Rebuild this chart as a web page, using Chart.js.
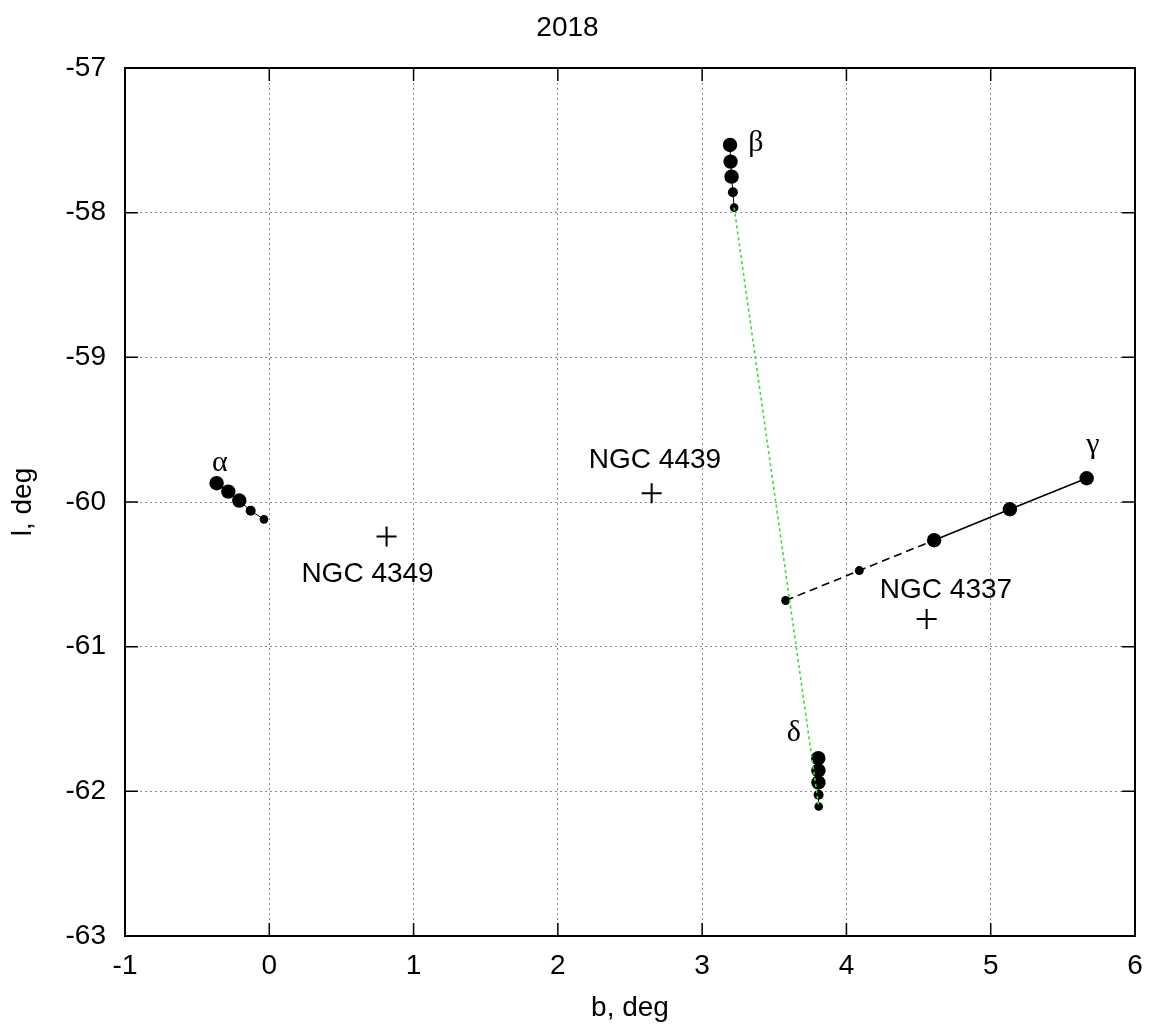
<!DOCTYPE html>
<html>
<head>
<meta charset="utf-8">
<script src="https://cdn.jsdelivr.net/npm/chart.js@4.4.1/dist/chart.umd.min.js"></script>
<style>
  html, body { margin: 0; padding: 0; background: #fff; }
  #wrap { width: 1152px; height: 1025px; }
</style>
</head>
<body>
<div id="wrap"><canvas id="c" width="1152" height="1025"></canvas></div>
<script>
// ---- data (b, l in degrees) ----
const alphaB = [-0.365, -0.284, -0.208, -0.129, -0.037];
const alphaL = [-59.87, -59.928, -59.99, -60.06, -60.12];
const betaB  = [3.193, 3.197, 3.204, 3.213, 3.222];
const betaL  = [-57.532, -57.647, -57.751, -57.859, -57.965];
const gammaB = [3.579, 4.089, 4.608, 5.133, 5.665];
const gammaL = [-60.681, -60.474, -60.264, -60.050, -59.836];
const deltaB = [3.805, 3.806, 3.806, 3.807, 3.808];
const deltaL = [-61.771, -61.856, -61.939, -62.024, -62.105];
const ngcNames = ['NGC 4349', 'NGC 4439', 'NGC 4337'];
const ngcB = [0.813, 2.650, 4.556];
const ngcL = [-60.239, -59.939, -60.808];
const xTicks = [-1, 0, 1, 2, 3, 4, 5, 6];
const yTicks = [-63, -62, -61, -60, -59, -58, -57];

// ---- styles ----
const bigSmallRadii = [7.2, 7.2, 7.2, 5, 4.3];
const gammaRadii = [4.5, 4.5, 7.2, 7.2, 7.2];
const FONT = "'Liberation Sans', Arial, Helvetica, sans-serif";
const SERIF = "'Liberation Serif', 'DejaVu Serif', serif";

function pts(xs, ys) { return xs.map((x, i) => ({ x: x, y: ys[i] })); }

// text annotations anchored in data units
const labels = [
  { text: 'α', x: -0.342, y: -59.73, font: '30px ' + SERIF },
  { text: 'β', x: 3.373, y: -57.518, font: '30px ' + SERIF },
  { text: 'γ', x: 5.708, y: -59.605, font: '30px ' + SERIF },
  { text: 'δ', x: 3.636, y: -61.596, font: '30px ' + SERIF },
  { text: ngcNames[0], x: 0.681, y: -60.497, font: '28px ' + FONT },
  { text: ngcNames[1], x: 2.673, y: -59.709, font: '28px ' + FONT },
  { text: ngcNames[2], x: 4.690, y: -60.607, font: '28px ' + FONT }
];

const framePlugin = {
  id: 'frame',
  afterDatasetsDraw(chart) {
    const { ctx, chartArea: a, scales } = chart;
    ctx.save();
    ctx.strokeStyle = '#000';
    ctx.lineWidth = 1.5;
    ctx.beginPath();
    const tl = 13;
    xTicks.forEach(v => {
      const px = scales.x.getPixelForValue(v);
      ctx.moveTo(px, a.bottom); ctx.lineTo(px, a.bottom - tl);
      ctx.moveTo(px, a.top); ctx.lineTo(px, a.top + tl);
    });
    yTicks.forEach(v => {
      const py = scales.y.getPixelForValue(v);
      ctx.moveTo(a.left, py); ctx.lineTo(a.left + tl, py);
      ctx.moveTo(a.right, py); ctx.lineTo(a.right - tl, py);
    });
    ctx.stroke();
    ctx.lineWidth = 2;
    ctx.strokeRect(a.left, a.top, a.right - a.left, a.bottom - a.top);
    // labels
    ctx.fillStyle = '#000';
    ctx.textAlign = 'center';
    ctx.textBaseline = 'middle';
    labels.forEach(l => {
      ctx.font = l.font;
      ctx.fillText(l.text, scales.x.getPixelForValue(l.x), scales.y.getPixelForValue(l.y));
    });
    ctx.restore();
  }
};

const ctx = document.getElementById('c');
new Chart(ctx, {
  type: 'scatter',
  data: {
    datasets: [
      {
        label: 'link',
        data: [pts(betaB, betaL).pop(), pts(deltaB, deltaL).pop()],
        showLine: true,
        borderColor: '#33e033',
        borderWidth: 1.6,
        borderDash: [3, 3],
        pointRadius: 0,
        order: 0
      },
      {
        label: 'alpha',
        data: pts(alphaB, alphaL),
        showLine: true,
        borderColor: '#000',
        borderWidth: 1,
        backgroundColor: '#000',
        pointRadius: bigSmallRadii,
        pointBorderWidth: 0,
        order: 1
      },
      {
        label: 'beta',
        data: pts(betaB, betaL),
        showLine: true,
        borderColor: '#000',
        borderWidth: 1,
        backgroundColor: '#000',
        pointRadius: bigSmallRadii,
        pointBorderWidth: 0,
        order: 1
      },
      {
        label: 'gamma',
        data: pts(gammaB, gammaL),
        showLine: true,
        borderColor: '#000',
        borderWidth: 1.6,
        backgroundColor: '#000',
        pointRadius: gammaRadii,
        pointBorderWidth: 0,
        segment: { borderDash: c => c.p0DataIndex < 2 ? [8, 5] : undefined },
        order: 1
      },
      {
        label: 'delta',
        data: pts(deltaB, deltaL),
        showLine: true,
        borderColor: '#000',
        borderWidth: 1,
        backgroundColor: '#000',
        pointRadius: bigSmallRadii,
        pointBorderWidth: 0,
        order: 1
      },
      {
        label: 'NGC',
        data: pts(ngcB, ngcL),
        pointStyle: 'cross',
        pointRadius: 10,
        pointBorderWidth: 2,
        borderColor: '#000',
        backgroundColor: '#000',
        order: 1
      }
    ]
  },
  options: {
    responsive: false,
    animation: false,
    devicePixelRatio: 1,
    layout: { padding: { left: 0, right: 17, top: 0, bottom: 0 } },
    plugins: {
      legend: { display: false },
      tooltip: { enabled: false },
      title: {
        display: true,
        text: '2018',
        color: '#000',
        font: { family: FONT, size: 28, weight: 'normal', lineHeight: 1.2 },
        padding: { top: 11, bottom: 23.4 }
      }
    },
    scales: {
      x: {
        type: 'linear',
        min: -1, max: 6,
        afterFit(s) { s.height = 89; s.paddingLeft = 0; s.paddingRight = 0; },
        afterBuildTicks(s) { s.ticks = xTicks.map(v => ({ value: v })); },
        grid: { color: '#8a8a8a', lineWidth: 1, drawTicks: false },
        border: { display: false, dash: [2, 3] },
        ticks: { color: '#000', padding: 13, font: { family: FONT, size: 28 }, maxRotation: 0 },
        title: { display: true, text: 'b, deg', color: '#000', font: { family: FONT, size: 28 }, padding: { top: 0, bottom: 0 } }
      },
      y: {
        type: 'linear',
        min: -63, max: -57,
        afterFit(s) { s.width = 125; s.paddingTop = 0; s.paddingBottom = 0; },
        afterBuildTicks(s) { s.ticks = yTicks.map(v => ({ value: v })); },
        grid: { color: '#8a8a8a', lineWidth: 1, drawTicks: false },
        border: { display: false, dash: [2, 3] },
        ticks: { color: '#000', padding: 19, font: { family: FONT, size: 28 } },
        title: { display: true, text: 'l, deg', color: '#000', font: { family: FONT, size: 28 }, padding: { top: 6, bottom: 0 } }
      }
    }
  },
  plugins: [framePlugin]
});
</script>
</body>
</html>
